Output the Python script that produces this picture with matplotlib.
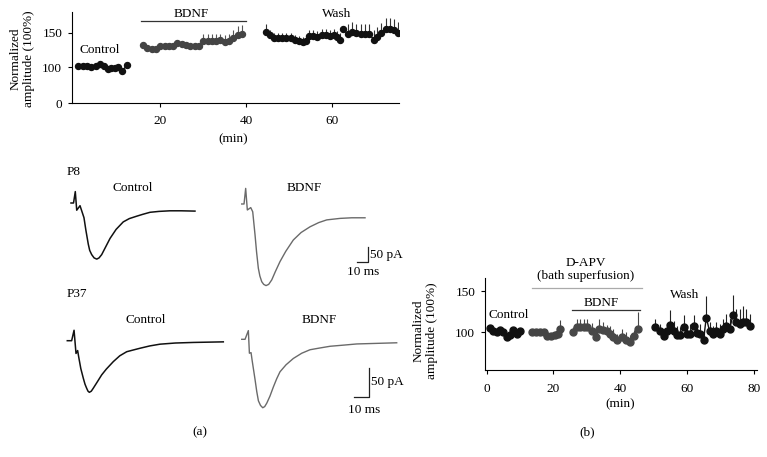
import numpy as np
import matplotlib
matplotlib.use("Agg")
import matplotlib.pyplot as plt

plt.rcParams['font.family'] = ['Liberation Serif', 'DejaVu Serif']
plt.rcParams['font.size'] = 9.5

# ---- top panel: amplitude over time (BDNF) ----
top_ctrl_t = [1, 2, 3, 4, 5, 6, 7, 7.8, 8.6, 9.4, 10.2, 11.1, 12.3]
top_ctrl_v = [102, 102, 102, 101, 102, 104, 102, 96, 97, 99, 100, 89, 103]
top_bdnf1_t = [16, 17, 18, 19, 20, 21, 22, 23, 24, 25, 26, 27, 28, 29]
top_bdnf1_v = [132, 128, 127, 127, 130, 131, 130, 131, 135, 134, 132, 130, 130, 130]
top_bdnf2_t = [30, 31, 32, 33, 34, 35, 36, 37, 38, 39]
top_bdnf2_v = [138, 138, 138, 138, 140, 137, 138, 142, 147, 148]
top_bdnf2_e = [10, 10, 10, 10, 8, 10, 10, 12, 13, 13]
top_wash_t = [44.6, 45.5, 46.5, 47.4, 48.4, 49.3, 50.4, 51.3, 52.3, 53.2, 53.8,
              54.6, 55.4, 56.5, 57.5, 58.5, 59.4, 60.4, 61.2, 61.9,
              62.5, 63.6, 64.6, 65.6, 66.6, 67.5, 68.5, 69.7, 70.4, 71.4, 72.4, 73.3, 74.3, 75.2]
top_wash_v = [151, 147, 142, 143, 143, 143, 142, 139, 138, 137, 138,
              145, 145, 144, 147, 147, 145, 146, 144, 140,
              155, 148, 151, 149, 148, 148, 148, 140, 144, 149, 155, 155, 154, 149]
top_wash_e = [11, 7, 7, 7, 7, 7, 7, 7, 7, 7, 7,
              9, 9, 9, 9, 9, 9, 9, 9, 9,
              0, 15, 14, 14, 14, 14, 14, 14, 14, 15, 16, 16, 16, 16]

# ---- panel (b): D-APV ----
b_ctrl_t = [1, 2, 3, 4, 5, 6, 7, 8, 9, 10]
b_ctrl_v = [105, 101, 100, 103, 100, 94, 97, 103, 98, 101]
b_apv_t = [13.5, 14.8, 16, 17.2, 18, 19.3, 20.5, 21.3, 22]
b_apv_v = [100, 100, 100, 100, 95, 95, 96, 98, 104]
b_apv_e = [3, 3, 3, 3, 3, 3, 3, 3, 11]
b_bdnf_t = [25.8, 27, 28, 29.2, 30.2, 31.5, 32.7, 33.8, 35, 36, 37, 38, 39.2,
            40.5, 41.7, 42.8, 44, 45.2]
b_bdnf_v = [100, 106, 106, 106, 106, 101, 94, 104, 103, 101, 98, 94, 90, 94,
            90, 88, 95, 104]
b_bdnf_e = [6, 10, 10, 10, 10, 10, 8, 12, 10, 8, 10, 10, 8, 10, 10, 8, 8, 21]
b_wash_t = [50.5, 51.8, 53, 54, 55, 56, 57, 58, 59, 60, 61, 62, 63, 64, 65,
            65.8, 66.8, 67.8, 68.8, 69.8, 70.8, 71.8, 72.8, 73.8, 74.8, 75.8,
            76.8, 77.8, 79]
b_wash_v = [106, 102, 95, 101, 109, 102, 96, 96, 106, 98, 98, 107, 99, 98, 91,
            118, 101, 98, 101, 98, 104, 108, 104, 121, 113, 110, 112, 113, 107]
b_wash_e = [10, 8, 6, 10, 18, 12, 12, 10, 15, 10, 12, 14, 10, 12, 10,
            26, 12, 10, 12, 12, 12, 14, 14, 25, 15, 18, 20, 15, 15]

# ---- panel (a): example EPSC traces (ms, pA) ----
p8_ctrl_t = [0, 2.3, 3.9, 5.2, 8.2, 11.8, 13.5, 15.7, 17, 18.8, 21, 23.4, 25.5,
             27.9, 31, 35.5, 41, 47.5, 53, 59.7, 65, 71.8, 80, 90, 100, 112.7]
p8_ctrl_i = [0, 0, 38, -24, -9, -49, -90, -137, -158, -172, -183, -187, -183,
             -172, -150, -118, -88, -63, -52, -44, -38, -31, -28, -26, -26, -27]
p8_bdnf_t = [0, 2.1, 3.6, 5.1, 8.2, 10, 12.1, 13.5, 15.1, 16.5, 18.2, 20, 22.1,
             24.5, 27.3, 30.5, 34.8, 40, 46.9, 54, 62.1, 70, 77.3, 89.4, 100, 112.1]
p8_bdnf_i = [0, 0, 52, -20, -12, -26, -103, -160, -214, -240, -259, -268, -272,
             -268, -253, -226, -192, -158, -120, -95, -76, -62, -53, -48, -46, -46]
p37_ctrl_t = [0, 2.9, 4.5, 5.8, 6.9, 7.6, 9, 10.7, 11.8, 12.9, 13.8, 14.7, 16,
              17.3, 20, 22.9, 26, 30.7, 35, 39.6, 44, 48.5, 55, 61.8, 72, 84, 104]
p37_ctrl_i = [0, 0, 18, -22, -17, -28, -48, -65, -75, -82, -87, -89, -87,
              -82, -71, -59, -49, -36, -26, -19, -16, -13, -9, -6, -4, -3, -2]
p37_bdnf_t = [0, 2.2, 4.4, 5.1, 6.2, 6.9, 8.9, 10, 11.1, 12.5, 14, 15.3, 16.7,
              18.8, 21.1, 23.3, 25.5, 29.5, 34.4, 40, 45.5, 52, 58.9, 68, 76.7, 90, 103.3]
p37_bdnf_i = [0, 0, 15, -24, -23, -36, -70, -90, -106, -114, -118, -116, -110,
              -98, -82, -68, -56, -44, -33, -24, -18, -15, -12, -10, -8, -7, -6]

W, H = 767, 457
fig = plt.figure(figsize=(W / 100, H / 100), dpi=100)


def box(x0, y0, x1, y1):
    # pixel box -> figure fraction rect
    return [x0 / W, 1 - y1 / H, (x1 - x0) / W, (y1 - y0) / H]


def ftext(x, y, s, **kw):
    fig.text(x / W, 1 - y / H, s, **kw)


def style_axes(ax):
    for side in ['top', 'right']:
        ax.spines[side].set_visible(False)
    for side in ['left', 'bottom']:
        ax.spines[side].set_linewidth(0.8)
    ax.tick_params(direction='out', length=3, width=0.8, labelsize=9.5)
    ax.tick_params(axis='x', pad=6)
    ax.tick_params(axis='y', pad=4)


# ---------- top panel ----------
def fwd(y):
    y = np.asarray(y, dtype=float)
    return np.where(y <= 100, y * 0.519, 51.9 + (y - 100))


def inv(v):
    v = np.asarray(v, dtype=float)
    return np.where(v <= 51.9, v / 0.519, 100 + (v - 51.9))


ax1 = fig.add_axes(box(72, 12, 399, 103))
ax1.set_yscale('function', functions=(fwd, inv))
ms = 4.3
ax1.plot(top_ctrl_t, top_ctrl_v, 'o-', color='#111111', ms=ms, lw=1)
ax1.plot(top_bdnf1_t, top_bdnf1_v, 'o-', color='#444444', ms=ms, lw=1)
ax1.errorbar(top_bdnf2_t, top_bdnf2_v, yerr=[np.zeros(len(top_bdnf2_e)), top_bdnf2_e],
             fmt='o-', color='#444444', ecolor='#555555', elinewidth=0.8, capsize=0, ms=ms, lw=1)
ax1.errorbar(top_wash_t[:20], top_wash_v[:20], yerr=[np.zeros(20), top_wash_e[:20]],
             fmt='o-', color='#111111', ecolor='#333333', elinewidth=0.8, capsize=0, ms=ms, lw=1)
ax1.errorbar(top_wash_t[20:], top_wash_v[20:],
             yerr=[np.zeros(len(top_wash_e) - 20), top_wash_e[20:]],
             fmt='o-', color='#111111', ecolor='#333333', elinewidth=0.8, capsize=0, ms=ms, lw=1)
ax1.plot([15.6, 39.9], [167, 167], color='#333333', lw=0.9, clip_on=False)
ax1.text(27.2, 177, 'BDNF', ha='center', va='center')
ax1.text(61, 177, 'Wash', ha='center', va='center')
ax1.text(5.9, 125, 'Control', ha='center', va='center')
ax1.set_xlim(-0.5, 75.5)
ax1.set_ylim(0, 180)
ax1.set_xticks([20, 40, 60])
ax1.set_yticks([0, 100, 150])
ax1.set_yticklabels(['0', '100', '150'])
ax1.yaxis.set_minor_locator(matplotlib.ticker.NullLocator())
style_axes(ax1)
ftext(22, 59, 'Normalized\namplitude (100%)', rotation=90, ha='center', va='center',
      linespacing=1.15)
ftext(233, 139, '(min)', ha='center', va='center')

# ---------- panel (a) traces ----------
axp8 = fig.add_axes(box(60, 175, 400, 295))
axp8.set_xlim((60 - 71) / 1.1, (400 - 71) / 1.1)
axp8.set_ylim((203 - 295) / 0.3, (203 - 175) / 0.3)
axp8.axis('off')
axp8.plot(p8_ctrl_t, p8_ctrl_i, color='#111111', lw=1.1, solid_joinstyle='round')
axp8.plot(np.array(p8_bdnf_t) + 155.2, np.array(p8_bdnf_i) - 3.3, color='#6a6a6a',
          lw=1.0, solid_joinstyle='round')
axp8.plot([260, 270, 270], [-198.3, -198.3, -148.3], color='#222222', lw=0.9)

axp37 = fig.add_axes(box(60, 305, 400, 420))
axp37.set_xlim((60 - 67.3) / 1.5, (400 - 67.3) / 1.5)
axp37.set_ylim((340.7 - 420) / 0.58, (340.7 - 305) / 0.58)
axp37.axis('off')
axp37.plot(p37_ctrl_t, p37_ctrl_i, color='#111111', lw=1.1, solid_joinstyle='round')
axp37.plot(np.array(p37_bdnf_t) + 116.3, np.array(p37_bdnf_i) + 2.4, color='#6a6a6a',
           lw=1.0, solid_joinstyle='round')
axp37.plot([191.1, 201.1, 201.1], [-96.6, -96.6, -46.6], color='#222222', lw=0.9)

ftext(67, 172, 'P8', ha='left', va='center')
ftext(133, 188, 'Control', ha='center', va='center')
ftext(304, 188, 'BDNF', ha='center', va='center')
ftext(370.5, 255, '50 pA', ha='left', va='center')
ftext(363, 272, '10 ms', ha='center', va='center')
ftext(67, 294, 'P37', ha='left', va='center')
ftext(146, 320, 'Control', ha='center', va='center')
ftext(319, 320, 'BDNF', ha='center', va='center')
ftext(371, 382, '50 pA', ha='left', va='center')
ftext(364, 410, '10 ms', ha='center', va='center')
ftext(200, 432, '(a)', ha='center', va='center')

# ---------- panel (b) ----------
ax2 = fig.add_axes(box(485, 278, 757, 370))
mb = 5
ax2.plot(b_ctrl_t, b_ctrl_v, 'o-', color='#111111', ms=mb, lw=1)
ax2.errorbar(b_apv_t, b_apv_v, yerr=[np.zeros(len(b_apv_e)), b_apv_e], fmt='o-',
             color='#444444', ecolor='#444444', elinewidth=0.8, capsize=0, ms=mb, lw=1)
ax2.errorbar(b_bdnf_t, b_bdnf_v, yerr=[np.zeros(len(b_bdnf_e)), b_bdnf_e], fmt='o-',
             color='#484848', ecolor='#484848', elinewidth=0.8, capsize=0, ms=mb, lw=1)
ax2.errorbar(b_wash_t, b_wash_v, yerr=[np.zeros(len(b_wash_e)), b_wash_e], fmt='o-',
             color='#111111', ecolor='#222222', elinewidth=0.8, capsize=0, ms=mb, lw=1)
ax2.plot([13.5, 46.5], [154, 154], color='#aaaaaa', lw=0.9, clip_on=False)
ax2.plot([25.5, 46], [127.4, 127.4], color='#333333', lw=0.9)
ax2.text(29.7, 185, 'D-APV', ha='center', va='center')
ax2.text(29.7, 168.4, '(bath superfusion)', ha='center', va='center')
ax2.text(34.2, 136.4, 'BDNF', ha='center', va='center')
ax2.text(6.5, 121.3, 'Control', ha='center', va='center')
ax2.text(59.2, 145.9, 'Wash', ha='center', va='center')
ax2.set_xlim(-0.5, 81)
ax2.set_ylim(53.6, 166.5)
ax2.set_xticks([0, 20, 40, 60, 80])
ax2.set_yticks([100, 150])
style_axes(ax2)
ftext(425, 331, 'Normalized\namplitude (100%)', rotation=90, ha='center', va='center',
      linespacing=1.15)
ftext(620, 404, '(min)', ha='center', va='center')
ftext(587, 432, '(b)', ha='center', va='center')

fig.savefig('out.png', dpi=100)
